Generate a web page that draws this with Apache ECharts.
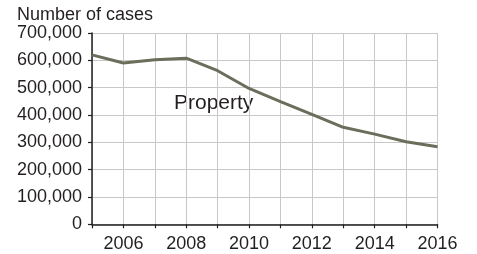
<!DOCTYPE html>
<html><head><meta charset="utf-8">
<script src="https://cdn.jsdelivr.net/npm/echarts@6/dist/echarts.min.js"></script>
<style>html,body{margin:0;padding:0;background:#fff}#c{width:477px;height:254px}</style>
</head><body><div id="c"></div>
<script>
const years = [2005,2006,2007,2008,2009,2010,2011,2012,2013,2014,2015,2016];
const property = [620000,590000,602000,608000,562000,497000,449000,402000,355000,330000,302000,284000];
const yTicks = [0,100000,200000,300000,400000,500000,600000,700000];
const seriesName = 'Property';
const yTitle = 'Number of cases';

const font = 'Liberation Sans, Arial, Helvetica, sans-serif';
const txt = '#231f20';
const chart = echarts.init(document.getElementById('c'), null, {renderer:'canvas'});
chart.setOption({
  animation:false,
  grid:{left:92,right:39.5,top:33,bottom:29.7,containLabel:false},
  xAxis:{type:'value',min:years[0],max:years[years.length-1],interval:1,
    axisLine:{show:true,lineStyle:{color:'#231f20',width:1.5}},
    axisTick:{show:true,length:4,inside:false,lineStyle:{color:'#231f20',width:1.2}},
    axisLabel:{margin:11,fontSize:18,fontFamily:font,color:txt,
      formatter:v=>v%2===0?String(v):''},
    splitLine:{show:true,lineStyle:{color:'#c8c8c8',width:1}}},
  yAxis:{type:'value',min:yTicks[0],max:yTicks[yTicks.length-1],interval:100000,
    axisLine:{show:true,lineStyle:{color:'#231f20',width:1.5}},
    axisTick:{show:true,length:4,lineStyle:{color:'#231f20',width:1.2}},
    axisLabel:{margin:10,fontSize:18,fontFamily:font,color:txt,
      formatter:v=>v.toLocaleString('en-US')},
    splitLine:{show:true,lineStyle:{color:'#c8c8c8',width:1}}},
  graphic:[
    {type:'text',left:17,top:6,style:{text:yTitle,font:'18px '+font,fill:txt}},
    {type:'text',left:174,top:93,style:{text:seriesName,font:'21px '+font,fill:txt}}
  ],
  series:[{type:'line',name:seriesName,data:years.map((y,i)=>[y,property[i]]),
    showSymbol:false,lineStyle:{color:'#6d6d5c',width:3},itemStyle:{color:'#6d6d5c'}}]
});
</script></body></html>
